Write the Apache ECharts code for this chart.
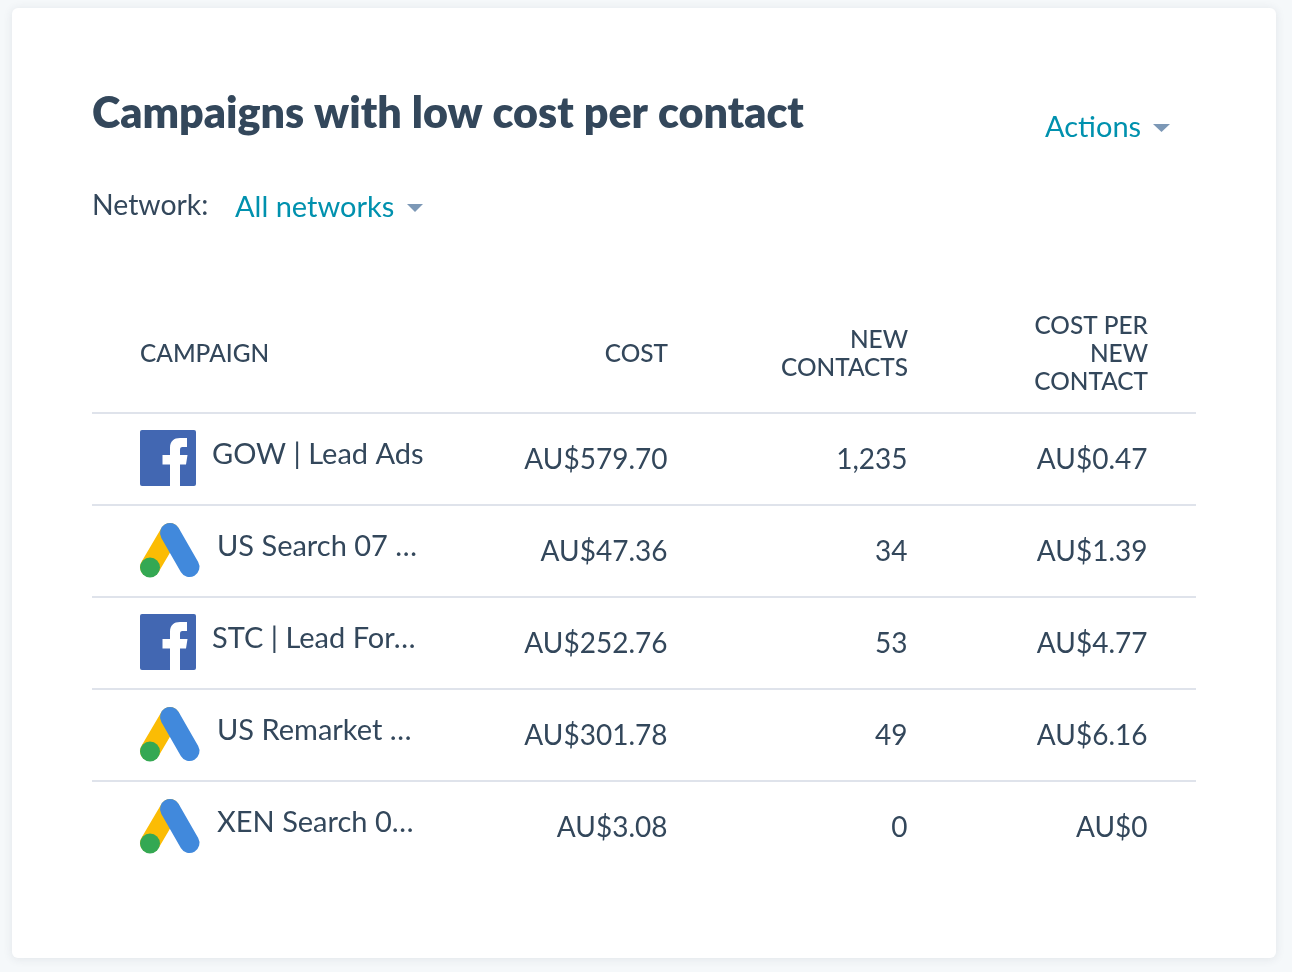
<!DOCTYPE html>
<html><head><meta charset="utf-8">
<style>html,body{margin:0;padding:0;background:#f5f8fa}#c{width:1292px;height:972px}</style>
<script src="https://cdn.jsdelivr.net/npm/echarts@6/dist/echarts.min.js"></script>
</head><body><div id="c"></div>
<script>
const titleText = 'Campaigns with low cost per contact';
const columnHeaders = ['CAMPAIGN', 'COST', 'NEW\nCONTACTS', 'COST PER\nNEW\nCONTACT'];
const campaigns = ['GOW | Lead Ads', 'US Search 07 …', 'STC | Lead For…', 'US Remarket …', 'XEN Search 0…'];
const networks = ['facebook', 'google', 'facebook', 'google', 'google'];
const costs = ['AU$579.70', 'AU$47.36', 'AU$252.76', 'AU$301.78', 'AU$3.08'];
const newContacts = ['1,235', '34', '53', '49', '0'];
const costPerContact = ['AU$0.47', 'AU$1.39', 'AU$4.77', 'AU$6.16', 'AU$0'];

const FONT = 'Lato, "Noto Sans", sans-serif';
const INK = '#33475b', LINK = '#0091ae', CARET = '#7c98b6';
const FB_F = 'M30 56V34.5H22.5V25H30V18C30 11 34 8 40 8H47V17H42.5C40.5 17 40 18 40 20V25H47.5L46 34.5H40V56Z';
const columnsText = [null, costs, newContacts, costPerContact];

function cellItems() {
  const out = [];
  for (let r = 0; r < campaigns.length; r++) for (let c = 0; c < 4; c++) out.push([c, r]);
  return out;
}
function renderCell(params, api) {
  const c = api.value(0), r = api.value(1);
  const p = api.coord([c, r]);
  if (c > 0) {
    return {type: 'text', style: {text: columnsText[c][r], x: p[0] + 120.5, y: p[1] + 1,
      align: 'right', verticalAlign: 'middle', font: '28px ' + FONT, fill: INK}};
  }
  const left = p[0] - 167, mid = p[1];
  const isFb = networks[r] === 'facebook';
  const kids = [];
  if (isFb) {
    kids.push({type: 'rect', shape: {x: left, y: mid - 29, width: 56, height: 56, r: 2}, style: {fill: '#4267b2'}});
    kids.push({type: 'path', shape: {pathData: FB_F, x: left + 22.5, y: mid - 21, width: 25, height: 48}, style: {fill: '#ffffff'}});
  } else {
    kids.push({type: 'line', shape: {x1: left + 10, y1: mid + 16, x2: left + 30, y2: mid - 18}, style: {stroke: '#fbbc04', lineWidth: 20, lineCap: 'round'}});
    kids.push({type: 'line', shape: {x1: left + 30, y1: mid - 18, x2: left + 49.5, y2: mid + 16}, style: {stroke: '#4189dc', lineWidth: 20, lineCap: 'round'}});
    kids.push({type: 'circle', shape: {cx: left + 10, cy: mid + 16.5, r: 10}, style: {fill: '#34a853'}});
  }
  kids.push({type: 'text', style: {text: campaigns[r], x: left + (isFb ? 72 : 77), y: mid - 4,
    align: 'left', verticalAlign: 'middle', font: '29px ' + FONT, fill: INK}});
  return {type: 'group', children: kids};
}
function headerGraphics() {
  const rights = [140, 668, 908, 1148];
  return columnHeaders.map((h, i) => ({
    type: 'text', x: rights[i], y: 354,
    style: {text: h, align: i ? 'right' : 'left', verticalAlign: 'middle', lineHeight: 28,
      font: '500 24.4px ' + FONT, fill: INK}
  }));
}
const caret = (x, y, w, h) => ({type: 'polygon', shape: {points: [[x, y], [x + w, y], [x + w / 2, y + h]]}, style: {fill: CARET}});
const label = (t, x, y, fill, size) => ({type: 'text', x, y, style: {text: t, align: 'left', verticalAlign: 'middle', font: size + 'px ' + FONT, fill}});

const chart = echarts.init(document.getElementById('c'));
chart.setOption({
  animation: false,
  backgroundColor: '#f5f8fa',
  graphic: [
    {type: 'rect', z: -10, shape: {x: 12, y: 8, width: 1264, height: 950, r: 6},
      style: {fill: '#ffffff', shadowBlur: 10, shadowColor: 'rgba(45,62,80,0.10)', shadowOffsetY: 1}},
    label('Network:', 92, 206, INK, 28.4),
    label('All networks', 235, 208, LINK, 29),
    caret(407, 204, 16, 8),
    label('Actions', 1045, 128, LINK, 29),
    caret(1153, 124, 17, 8),
    ...headerGraphics()
  ],
  title: {text: titleText, left: 92, top: 93, padding: 0,
    textStyle: {fontFamily: FONT, fontWeight: 800, fontSize: 43, color: INK}},
  grid: [
    {left: 92, width: 1104, top: 413, height: 460},
    {left: 187, width: 960, top: 413, height: 460}
  ],
  xAxis: [
    {gridIndex: 0, type: 'category', data: columnHeaders, show: false},
    {gridIndex: 1, type: 'category', data: columnHeaders, show: false}
  ],
  yAxis: [
    {gridIndex: 0, type: 'category', inverse: true, data: campaigns,
      axisLine: {show: false}, axisTick: {show: false}, axisLabel: {show: false},
      splitLine: {show: true, showMaxLine: false, lineStyle: {color: '#dfe3eb', width: 2}}},
    {gridIndex: 1, type: 'category', inverse: true, data: campaigns, show: false}
  ],
  series: [{type: 'custom', xAxisIndex: 1, yAxisIndex: 1, coordinateSystem: 'cartesian2d',
    data: cellItems(), renderItem: renderCell, clip: false, silent: true}]
});
</script></body></html>
